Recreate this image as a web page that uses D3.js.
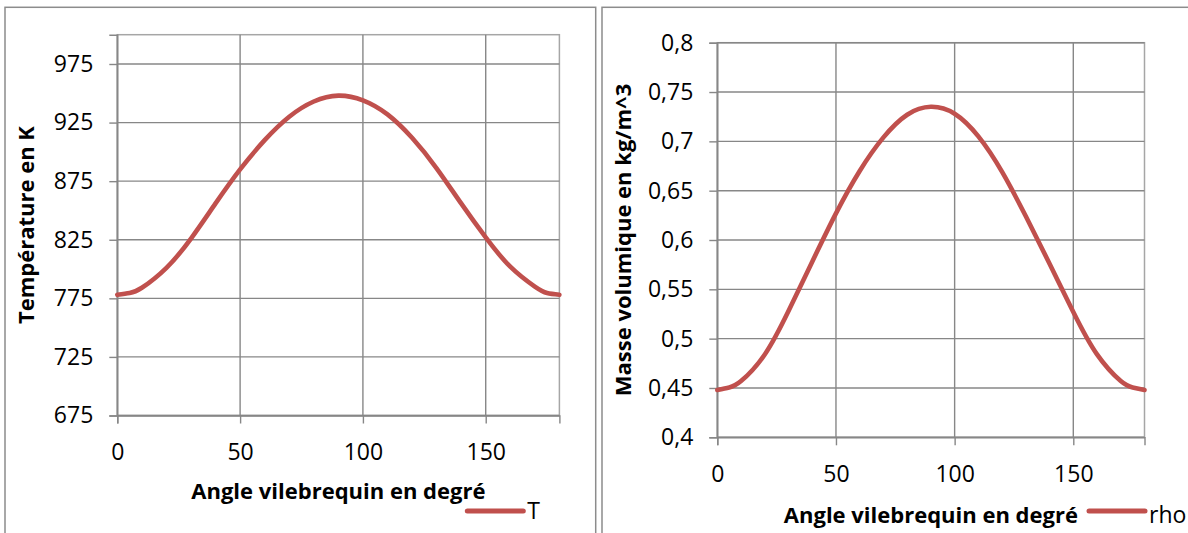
<!DOCTYPE html>
<html>
<head>
<meta charset="utf-8">
<script src="https://cdn.jsdelivr.net/npm/d3@7"></script>
<style>
	body { margin: 0; background: #fff; }
	svg { display: block; font-family: "Open Sans", sans-serif; }
</style>
</head>
<body>
<div id="chart-area"></div>
<script>

// Data

var angles = [0, 5, 10, 20, 30, 40, 50, 60, 70, 80, 90, 100, 110, 120, 130, 140, 150, 160, 170, 175, 180];
var temperature = [778, 779.5, 784, 801, 826, 856, 885, 910, 930, 943, 948, 944, 932, 912, 886, 856, 827, 802, 785, 779.5, 778];
var density = [0.448, 0.4505, 0.457, 0.484, 0.528, 0.578, 0.627, 0.670, 0.704, 0.727, 0.735, 0.728, 0.705, 0.669, 0.624, 0.576, 0.527, 0.484, 0.457, 0.4505, 0.448];

var xTicks = [0, 50, 100, 150];
var tempTicks = [675, 725, 775, 825, 875, 925, 975];
var rhoTicks = [0.4, 0.45, 0.5, 0.55, 0.6, 0.65, 0.7, 0.75, 0.8];

var width = 1188;
var height = 533;
var lineColor = "#C0504D";
var gridColor = "#878787";

var svg = d3.select("#chart-area").append("svg")
	.attr("width", width)
	.attr("height", height);

svg.append("rect")
	.attr("width", width)
	.attr("height", height)
	.attr("fill", "#fff");

function drawPanel(p) {

	// Outer frame of the chart
	svg.append("rect")
		.attr("x", p.box[0])
		.attr("y", p.box[1])
		.attr("width", p.box[2])
		.attr("height", p.box[3])
		.attr("fill", "none")
		.attr("stroke", "#8c8c8c")
		.attr("stroke-width", 1.5);

	var x = d3.scaleLinear().domain([0, 180]).range([p.left, p.right]);
	var y = d3.scaleLinear().domain(p.yDomain).range([p.bottom, p.top]);

	var g = svg.append("g");

	// plot area border
	g.append("rect")
		.attr("x", p.left)
		.attr("y", p.top)
		.attr("width", p.right - p.left)
		.attr("height", p.bottom - p.top)
		.attr("fill", "none")
		.attr("stroke", "#a6a6a6")
		.attr("stroke-width", 1.5);

	// gridlines
	g.selectAll(".hgrid").data(p.yTicks).enter()
		.append("line")
			.attr("x1", p.left)
			.attr("x2", p.right)
			.attr("y1", (d) => y(d))
			.attr("y2", (d) => y(d))
			.attr("stroke", gridColor)
			.attr("stroke-width", 1.4);

	g.selectAll(".vgrid").data(xTicks).enter()
		.append("line")
			.attr("x1", (d) => x(d))
			.attr("x2", (d) => x(d))
			.attr("y1", p.top)
			.attr("y2", p.bottom)
			.attr("stroke", gridColor)
			.attr("stroke-width", 1.4);

	// axes
	var yAxis = d3.axisLeft(y)
		.tickValues(p.yTicks)
		.tickSize(8)
		.tickPadding(16)
		.tickFormat(p.format);
	var ya = g.append("g")
		.attr("transform", "translate(" + p.left + ",0)")
		.call(yAxis);

	var xAxis = d3.axisBottom(x)
		.tickValues(xTicks)
		.tickSize(8)
		.tickPadding(20);
	var xa = g.append("g")
		.attr("transform", "translate(0," + p.bottom + ")")
		.call(xAxis);

	[ya, xa].forEach((a) => {
		a.select(".domain")
			.attr("stroke", gridColor)
			.attr("stroke-width", 1.4);
		a.selectAll(".tick line")
			.attr("stroke", gridColor)
			.attr("stroke-width", 1.4);
		a.selectAll(".tick text")
			.attr("font-family", "'Open Sans', sans-serif")
			.attr("font-size", "23px")
			.attr("fill", "#000");
	});

	// the curve
	var line = d3.line()
		.x((d, i) => x(angles[i]))
		.y((d) => y(d))
		.curve(d3.curveNatural);

	g.append("path")
		.datum(p.values)
		.attr("d", line)
		.attr("fill", "none")
		.attr("stroke", lineColor)
		.attr("stroke-width", 4.6)
		.attr("stroke-linecap", "round");

	// labels
	g.append("text")
		.attr("x", (p.left + p.right) / 2)
		.attr("y", p.xTitleY)
		.attr("font-size", "22px")
		.attr("font-weight", "bold")
		.attr("text-anchor", "middle")
		.text("Angle vilebrequin en degré");

	g.append("text")
		.attr("x", -(p.top + p.bottom) / 2)
		.attr("y", p.yTitleX)
		.attr("font-size", "22px")
		.attr("font-weight", "bold")
		.attr("text-anchor", "middle")
		.attr("transform", "rotate(-90)")
		.text(p.yTitle);

	// legend
	g.append("line")
		.attr("x1", p.legend[0])
		.attr("x2", p.legend[0] + 56)
		.attr("y1", p.legend[1])
		.attr("y2", p.legend[1])
		.attr("stroke", lineColor)
		.attr("stroke-width", 5)
		.attr("stroke-linecap", "round");

	g.append("text")
		.attr("x", p.legend[0] + 60)
		.attr("y", p.legend[2])
		.attr("font-size", "23px")
		.text(p.name);
}

drawPanel({
	box: [5, 7.3, 590.7, 540],
	left: 117.3, right: 559.4, top: 34.7, bottom: 415.5,
	yDomain: [675, 1000],
	yTicks: tempTicks,
	format: (d) => d,
	values: temperature,
	xTitleY: 499,
	yTitleX: 34,
	yTitle: "Température en K",
	legend: [467.3, 511, 519],
	name: "T"
});

drawPanel({
	box: [602, 7.3, 600, 540],
	left: 717.3, right: 1144.5, top: 42.7, bottom: 437.3,
	yDomain: [0.4, 0.8],
	yTicks: rhoTicks,
	format: (d) => String(d).replace(".", ","),
	values: density,
	xTitleY: 523,
	yTitleX: 631,
	yTitle: "Masse volumique en kg/m^3",
	legend: [1089, 511, 523],
	name: "rho"
});

</script>
</body>
</html>
